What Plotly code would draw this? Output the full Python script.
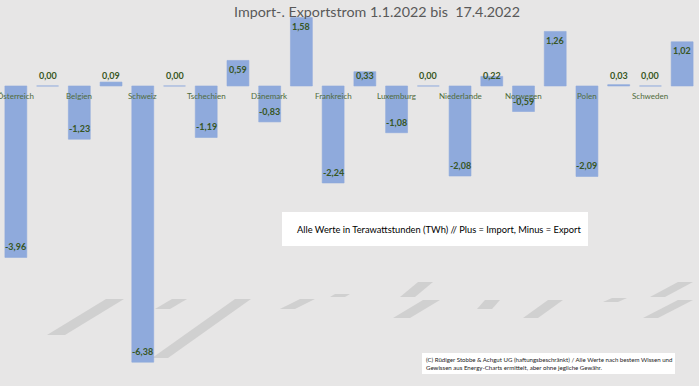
import plotly.graph_objects as go

# ---------------- data ----------------
countries = ["Österreich", "Belgien", "Schweiz", "Tschechien", "Dänemark", "Frankreich",
             "Luxemburg", "Niederlande", "Norwegen", "Polen", "Schweden"]
export_vals = [-3.96, -1.23, -6.38, -1.19, -0.83, -2.24, -1.08, -2.08, -0.59, -2.09, 0.00]
import_vals = [0.00, 0.09, 0.00, 0.59, 1.58, 0.33, 0.00, 0.22, 1.26, 0.03, 1.02]
title_text = "Import-. Exportstrom 1.1.2022 bis  17.4.2022"
note_text = "Alle Werte in Terawattstunden (TWh) // Plus = Import, Minus = Export"
copyright_text = ("(C) Rüdiger Stobbe &amp; Achgut UG (haftungsbeschränkt) / Alle Werte nach bestem Wissen und<br>"
                  "Gewissen aus Energy-Charts ermittelt, aber ohne jegliche Gewähr.")

# ---------------- build ----------------
W, H = 699, 386
BG = "#E7E6E6"
BAR = "#8FAADC"
LBL = "#375623"
CAT = "#4F6B3B"
FONT = "Lato, 'Open Sans', sans-serif"

xs, vals = [], []
for i in range(len(countries)):
    xs += [2 * i, 2 * i + 1]
    vals += [export_vals[i], import_vals[i]]

fig = go.Figure()
fig.add_trace(go.Bar(x=xs, y=vals, marker=dict(color=BAR, line=dict(color=BAR, width=0.6)),
                     hoverinfo="skip"))

annotations = []
fmt = lambda v: f"{v:.2f}".replace(".", ",")
for x, v in zip(xs, vals):
    if v < 0:
        annotations.append(dict(x=x, y=v, yshift=10.5, text=fmt(v), showarrow=False,
                                yanchor="middle", font=dict(size=9, color=LBL, family=FONT, weight="bold")))
    else:
        annotations.append(dict(x=x, y=max(v, 0.44), yshift=-9, text=fmt(v), showarrow=False,
                                yanchor="middle", font=dict(size=9, color=LBL, family=FONT, weight="bold")))
for i, c in enumerate(countries):
    annotations.append(dict(x=2 * i, y=0, yshift=-10, text=c, showarrow=False, yanchor="middle",
                            font=dict(size=8, color=CAT, family=FONT)))

# plot area: top=10, bottom=376 px ; x spans full width
PT, PB = 10, 376
def py(p):
    return (PB - p) / (PB - PT)
def px(p):
    return p / (W - 1)

annotations.append(dict(xref="paper", yref="paper", x=px(377), y=1.0, yshift=-1, text=title_text,
                        showarrow=False, xanchor="center", yanchor="middle",
                        font=dict(size=14.3, color="#595959", family=FONT)))
annotations.append(dict(xref="paper", yref="paper", x=px(295), y=py(229), text=note_text,
                        showarrow=False, xanchor="left", yanchor="middle",
                        font=dict(size=9.3, color="#000000", family=FONT)))
annotations.append(dict(xref="paper", yref="paper", x=px(424), y=py(363.5), text=copyright_text,
                        showarrow=False, xanchor="left", yanchor="middle", align="left",
                        font=dict(size=6.1, color="#222222", family=FONT)))

shapes = [
    dict(type="rect", xref="paper", yref="paper", x0=px(282), x1=px(588), y0=py(246), y1=py(212),
         fillcolor="white", line=dict(width=0), layer="above"),
    dict(type="rect", xref="paper", yref="paper", x0=px(422), x1=px(675), y0=py(374), y1=py(353),
         fillcolor="white", line=dict(width=0), layer="above"),
]
# decorative blurred shadows
shadows = [
    [(47, 335), (65, 335), (124, 299), (106, 299)],
    [(155, 309), (170, 309), (187, 299), (172, 299)],
    [(152, 358), (168, 358), (251, 299), (235, 299)],
    [(280, 309), (295, 309), (315, 299), (300, 299)],
    [(330, 297), (345, 297), (350, 294), (335, 294)],
    [(393, 318), (410, 318), (440, 300), (423, 300)],
    [(400, 297), (415, 297), (433, 282), (418, 282)],
    [(477, 309), (492, 309), (500, 300), (485, 300)],
    [(523, 318), (538, 318), (563, 300), (548, 300)],
    [(603, 302), (618, 302), (627, 298), (612, 298)],
    [(650, 297), (665, 297), (693, 282), (678, 282)],
    [(643, 318), (658, 318), (693, 300), (678, 300)],
]
for poly in shadows:
    path = "M " + " L ".join(f"{px(a):.4f},{py(b):.4f}" for a, b in poly) + " Z"
    shapes.append(dict(type="path", xref="paper", yref="paper", path=path,
                       fillcolor="rgba(175,175,175,0.4)", line=dict(width=0), layer="below"))

fig.update_layout(
    width=W, height=H,
    paper_bgcolor=BG, plot_bgcolor=BG,
    margin=dict(l=0, r=1, t=PT, b=H - PB),
    bargap=0.31,
    showlegend=False,
    xaxis=dict(range=[-0.5, 21.5], visible=False, fixedrange=True),
    yaxis=dict(range=[-6.70, 1.755], visible=False, fixedrange=True),
    annotations=annotations,
    shapes=shapes,
    font=dict(family=FONT),
)

fig.write_html("out.html", config={"displayModeBar": False})
with open("out.html", encoding="utf-8") as f:
    html = f.read()
html = html.replace("<head>", "<head><style>html,body{margin:0;padding:0;overflow:hidden;}</style>", 1)
with open("out.html", "w", encoding="utf-8") as f:
    f.write(html)
